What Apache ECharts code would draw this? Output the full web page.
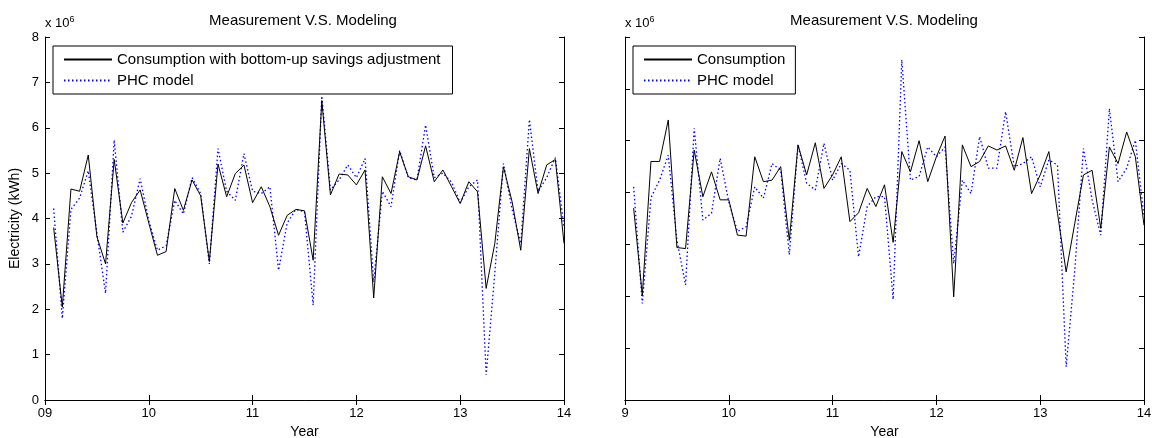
<!DOCTYPE html>
<html><head><meta charset="utf-8">
<script src="https://cdn.jsdelivr.net/npm/echarts@6/dist/echarts.min.js"></script>
<style>html,body{margin:0;padding:0;background:#fff}#c{width:1152px;height:438px}</style>
</head><body><div id="c"></div>
<script>
// Values in units of 10^6 kWh, monthly from Jan 2009 (month 1) to Dec 2013 (month 60)
const months = Array.from({length: 60}, (_, i) => i + 1);
const leftConsumption = [3.8, 2.05, 4.65, 4.6, 5.4, 3.6, 3.0, 5.3, 3.9, 4.35, 4.63, 3.9,
 3.19, 3.27, 4.66, 4.18, 4.85, 4.5, 3.05, 5.2, 4.48, 4.99, 5.18, 4.35,
 4.7, 4.26, 3.63, 4.07, 4.2, 4.17, 3.08, 6.6, 4.52, 4.98, 4.96, 4.74,
 5.07, 2.25, 4.92, 4.55, 5.47, 4.92, 4.85, 5.6, 4.81, 5.07, 4.7, 4.33,
 4.81, 4.59, 2.46, 3.45, 5.14, 4.37, 3.3, 5.54, 4.55, 5.18, 5.3, 3.45];
const leftPHC = [4.22, 1.8, 4.2, 4.45, 5.05, 3.67, 2.35, 5.73, 3.7, 4.05, 4.88, 3.95,
 3.3, 3.4, 4.4, 4.1, 4.9, 4.55, 3.0, 5.54, 4.6, 4.4, 5.43, 4.6,
 4.55, 4.7, 2.86, 3.9, 4.2, 4.15, 2.09, 6.7, 4.63, 4.85, 5.18, 4.9,
 5.32, 2.6, 4.6, 4.26, 5.5, 4.9, 4.85, 6.06, 4.9, 5.0, 4.8, 4.35,
 4.7, 4.85, 0.55, 2.8, 5.21, 4.2, 3.45, 6.18, 4.6, 4.9, 5.34, 3.8];
const rightConsumption = [3.7, 2.02, 4.6, 4.6, 5.4, 2.94, 2.92, 4.82, 3.92, 4.4, 3.86, 3.86,
 3.18, 3.16, 4.69, 4.21, 4.24, 4.5, 3.08, 4.92, 4.34, 4.96, 4.08, 4.34,
 4.69, 3.44, 3.61, 4.08, 3.73, 4.15, 3.04, 4.79, 4.4, 5.0, 4.21, 4.69,
 5.09, 1.99, 4.92, 4.5, 4.6, 4.9, 4.82, 4.9, 4.43, 5.06, 3.98, 4.34,
 4.79, 3.6, 2.47, 3.41, 4.34, 4.43, 3.31, 4.88, 4.56, 5.17, 4.69, 3.37];
const rightPHC = [4.11, 1.86, 3.9, 4.24, 4.72, 3.08, 2.22, 5.24, 3.47, 3.6, 4.66, 3.82,
 3.25, 3.34, 4.11, 3.89, 4.56, 4.43, 2.8, 4.92, 4.18, 4.05, 4.95, 4.24,
 4.56, 4.43, 2.76, 3.73, 3.92, 3.92, 1.94, 6.56, 4.24, 4.31, 4.88, 4.69,
 4.88, 2.63, 4.24, 3.98, 5.08, 4.47, 4.47, 5.56, 4.5, 4.56, 4.69, 4.11,
 4.63, 4.53, 0.64, 2.51, 4.85, 3.86, 3.18, 5.62, 4.21, 4.47, 5.01, 3.53];
const leftXLabels = ['09', '10', '11', '12', '13', '14'];
const rightXLabels = ['9', '10', '11', '12', '13', '14'];
const yearStart = 9;

const FONT = '"Liberation Sans", Arial, sans-serif';
const pts = arr => arr.map((v, i) => [yearStart + months[i] / 12, v]);

function xAxes(gi, labels) {
  return [
    {gridIndex: gi, type: 'value', min: 9, max: 14, interval: 1, position: 'bottom',
     name: 'Year', nameLocation: 'middle', nameGap: 24,
     nameTextStyle: {color: '#000', fontSize: 14, fontFamily: FONT},
     axisLine: {lineStyle: {color: '#000', width: 1}},
     axisTick: {inside: true, length: 5, lineStyle: {color: '#000'}},
     axisLabel: {color: '#000', fontSize: 13, fontFamily: FONT, margin: 7,
       formatter: v => labels[Math.round(v - 9)]},
     splitLine: {show: false}},
    {gridIndex: gi, type: 'value', min: 9, max: 14, interval: 1, position: 'top',
     axisLine: {lineStyle: {color: '#000', width: 1}},
     axisTick: {inside: true, length: 5, lineStyle: {color: '#000'}},
     axisLabel: {show: false}, splitLine: {show: false}}
  ];
}
function yAxes(gi, max, showLabels, name) {
  return [
    {gridIndex: gi, type: 'value', min: 0, max: max, interval: 1, position: 'left',
     name: name, nameLocation: 'middle', nameGap: 23,
     nameTextStyle: {color: '#000', fontSize: 14, fontFamily: FONT},
     axisLine: {show: true, lineStyle: {color: '#000', width: 1}},
     axisTick: {show: true, inside: true, length: 5, lineStyle: {color: '#000'}},
     axisLabel: {show: showLabels, color: '#000', fontSize: 13, fontFamily: FONT, margin: 6},
     splitLine: {show: false}},
    {gridIndex: gi, type: 'value', min: 0, max: max, interval: 1, position: 'right',
     axisLine: {show: true, lineStyle: {color: '#000', width: 1}},
     axisTick: {show: true, inside: true, length: 5, lineStyle: {color: '#000'}},
     axisLabel: {show: false}, splitLine: {show: false}}
  ];
}

const chart = echarts.init(document.getElementById('c'), null, {renderer: 'canvas'});
const blackLine = {color: '#000', width: 1, type: 'solid'};
const blueLine = {color: '#0000ff', width: 1.3, type: [1.5, 2.5]};
const legendBase = {orient: 'vertical', backgroundColor: '#fff', borderColor: '#000', borderWidth: 1,
  itemGap: 6, itemWidth: 48, itemHeight: 16, itemStyle: {opacity: 0},
  textStyle: {color: '#000', fontSize: 15, fontFamily: FONT}};

chart.setOption({
  animation: false,
  backgroundColor: '#fff',
  grid: [
    {left: 45, right: 588, top: 37, bottom: 38, outerBoundsMode: 'none', containLabel: false},
    {left: 625, right: 8, top: 37, bottom: 38, outerBoundsMode: 'none', containLabel: false}
  ],
  xAxis: [...xAxes(0, leftXLabels), ...xAxes(1, rightXLabels)],
  yAxis: [...yAxes(0, 8, true, 'Electricity (kWh)'), ...yAxes(1, 7, false, '')],
  legend: [
    Object.assign({left: 53, top: 46, padding: [6, 12, 6, 10],
      data: ['Consumption with bottom-up savings adjustment', 'PHC model']}, legendBase),
    Object.assign({left: 633, top: 46, padding: [6, 10, 6, 10],
      data: ['Consumption', 'PHC model ']}, legendBase)
  ],
  graphic: [
    {type: 'text', x: 303, y: 21, style: {text: 'Measurement V.S. Modeling', fill: '#000',
      font: '15px ' + FONT, textAlign: 'center', textVerticalAlign: 'middle'}},
    {type: 'text', x: 884, y: 21, style: {text: 'Measurement V.S. Modeling', fill: '#000',
      font: '15px ' + FONT, textAlign: 'center', textVerticalAlign: 'middle'}},
    {type: 'text', left: 45, top: 15, style: {rich: {a: {fontSize: 13, fontFamily: FONT, fill: '#000'}, s: {fontSize: 9, fontFamily: FONT, fill: '#000', verticalAlign: 'top', padding: [0, 0, 8, 0]}}, text: '{a|x 10}{s|6}'}},
    {type: 'text', left: 625, top: 15, style: {rich: {a: {fontSize: 13, fontFamily: FONT, fill: '#000'}, s: {fontSize: 9, fontFamily: FONT, fill: '#000', verticalAlign: 'top', padding: [0, 0, 8, 0]}}, text: '{a|x 10}{s|6}'}}
  ],
  series: [
    {name: 'Consumption with bottom-up savings adjustment', type: 'line', xAxisIndex: 0, yAxisIndex: 0,
     data: pts(leftConsumption), symbol: 'none', lineStyle: blackLine, itemStyle: {color: '#000'}, z: 3},
    {name: 'PHC model', type: 'line', xAxisIndex: 0, yAxisIndex: 0,
     data: pts(leftPHC), symbol: 'none', lineStyle: blueLine, itemStyle: {color: '#0000ff'}, z: 2},
    {name: 'Consumption', type: 'line', xAxisIndex: 2, yAxisIndex: 2,
     data: pts(rightConsumption), symbol: 'none', lineStyle: blackLine, itemStyle: {color: '#000'}, z: 3},
    {name: 'PHC model ', type: 'line', xAxisIndex: 2, yAxisIndex: 2,
     data: pts(rightPHC), symbol: 'none', lineStyle: blueLine, itemStyle: {color: '#0000ff'}, z: 2}
  ]
});
</script></body></html>
